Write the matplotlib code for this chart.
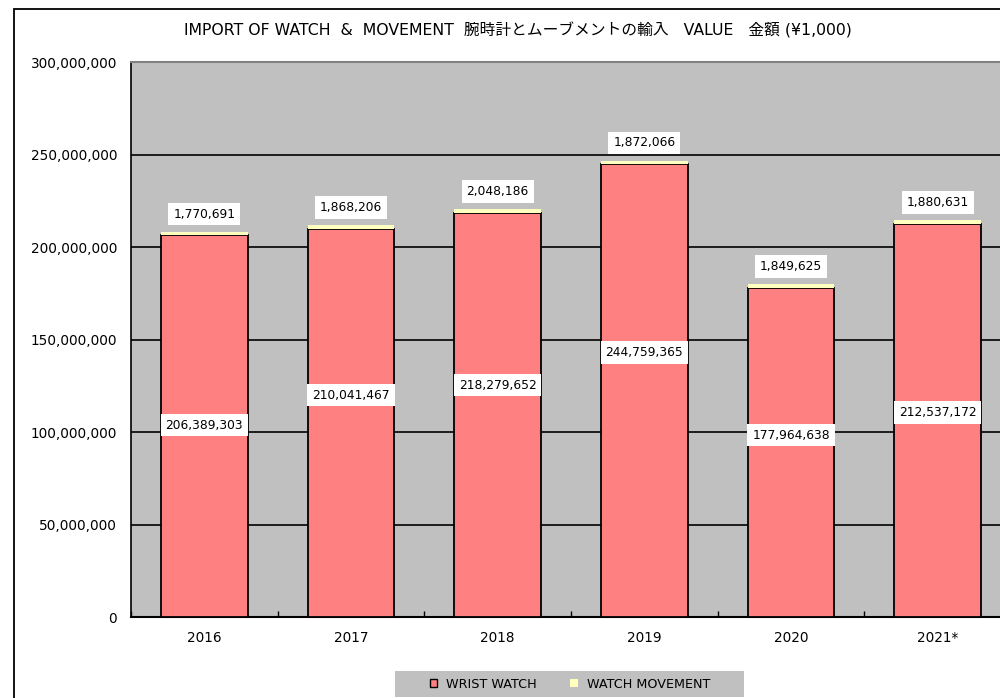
import matplotlib
matplotlib.use('Agg')
import matplotlib.pyplot as plt
from matplotlib.patches import Patch, Rectangle
from matplotlib.ticker import FuncFormatter, MultipleLocator
import numpy as np

plt.rcParams['font.family'] = ['DejaVu Sans', 'Noto Sans CJK JP']

# データ
years = ['2016', '2017', '2018', '2019', '2020', '2021*']
wrist_watch = [206389303, 210041467, 218279652, 244759365, 177964638, 212537172]
watch_movement = [1770691, 1868206, 2048186, 1872066, 1849625, 1880631]

# WRIST WATCH ラベルの高さ (元のグラフで手動配置されている)
wrist_label_y = [103800000, 120000000, 125400000, 143200000, 98400000, 110500000]

title = 'IMPORT OF WATCH  &  MOVEMENT  腕時計とムーブメントの輸入   VALUE   金額 (¥1,000)'

fig = plt.figure(figsize=(10, 6.98), dpi=100)

# 外枠 (右と下は切れている)
fig.patches.append(Rectangle((0.014, -0.1), 1.2, 1.1 - 0.013, transform=fig.transFigure,
                             fill=False, edgecolor='black', linewidth=1.3, zorder=0))

ax = fig.add_axes([0.131, 0.116, 0.88, 0.795])
ax.set_facecolor('#C0C0C0')

x = np.arange(len(years))
w = 0.59
ax.bar(x, wrist_watch, width=w, color='#FF8080', edgecolor='black', linewidth=1.3, zorder=3)
ax.bar(x, watch_movement, width=w, bottom=wrist_watch, color='#FFFFC0',
       edgecolor='none', zorder=3)

# 数値ラベル
box = dict(facecolor='white', edgecolor='none', pad=3.5)
for i in range(len(years)):
    ax.text(x[i], wrist_label_y[i], f'{wrist_watch[i]:,}', ha='center', va='center',
            fontsize=8.8, bbox=box, zorder=5)
    top = wrist_watch[i] + watch_movement[i]
    ax.text(x[i], top + 9.7e6, f'{watch_movement[i]:,}', ha='center', va='center',
            fontsize=8.8, bbox=box, zorder=5)

ax.set_xlim(-0.5, len(years) - 0.5)
ax.set_ylim(0, 300000000)
ax.yaxis.set_major_locator(MultipleLocator(50000000))
ax.yaxis.set_major_formatter(FuncFormatter(lambda v, p: f'{int(v):,}'))
ax.grid(axis='y', color='black', linewidth=1.2, zorder=1)
ax.set_axisbelow(True)

ax.set_xticks(x)
ax.set_xticklabels(years)
ax.set_xticks(np.arange(-0.5, len(years), 1), minor=True)
ax.tick_params(axis='x', which='major', length=0, pad=10, labelsize=9.8)
ax.tick_params(axis='x', which='minor', direction='in', length=4, width=1)
ax.tick_params(axis='y', length=0, pad=10, labelsize=9.8)

ax.spines['top'].set_color('#808080')
ax.spines['top'].set_linewidth(1.5)
ax.spines['right'].set_visible(False)
ax.spines['left'].set_color('black')
ax.spines['left'].set_linewidth(1.2)
ax.spines['bottom'].set_color('black')
ax.spines['bottom'].set_linewidth(1.5)

fig.text(0.518, 1 - 30 / 698, title, ha='center', va='center', fontsize=11.3)

# 凡例 (背景は別に描く)
fig.patches.append(Rectangle((0.395, 1 - 697 / 698), 0.349, 26 / 698, transform=fig.transFigure,
                             facecolor='#C0C0C0', edgecolor='none', zorder=1))
handles = [Patch(facecolor='#FF8080', edgecolor='black', linewidth=1.0, label='WRIST WATCH'),
           Patch(facecolor='#FFFFC0', edgecolor='none', label='WATCH MOVEMENT')]
leg = fig.legend(handles=handles, loc='center', bbox_to_anchor=(0.57, 1 - 684 / 698), ncol=2,
                 fontsize=9.2, frameon=False, handlelength=0.6, handleheight=0.6,
                 handletextpad=0.7, columnspacing=2.6, borderpad=0, borderaxespad=0)

fig.savefig('out.png', dpi=100)
